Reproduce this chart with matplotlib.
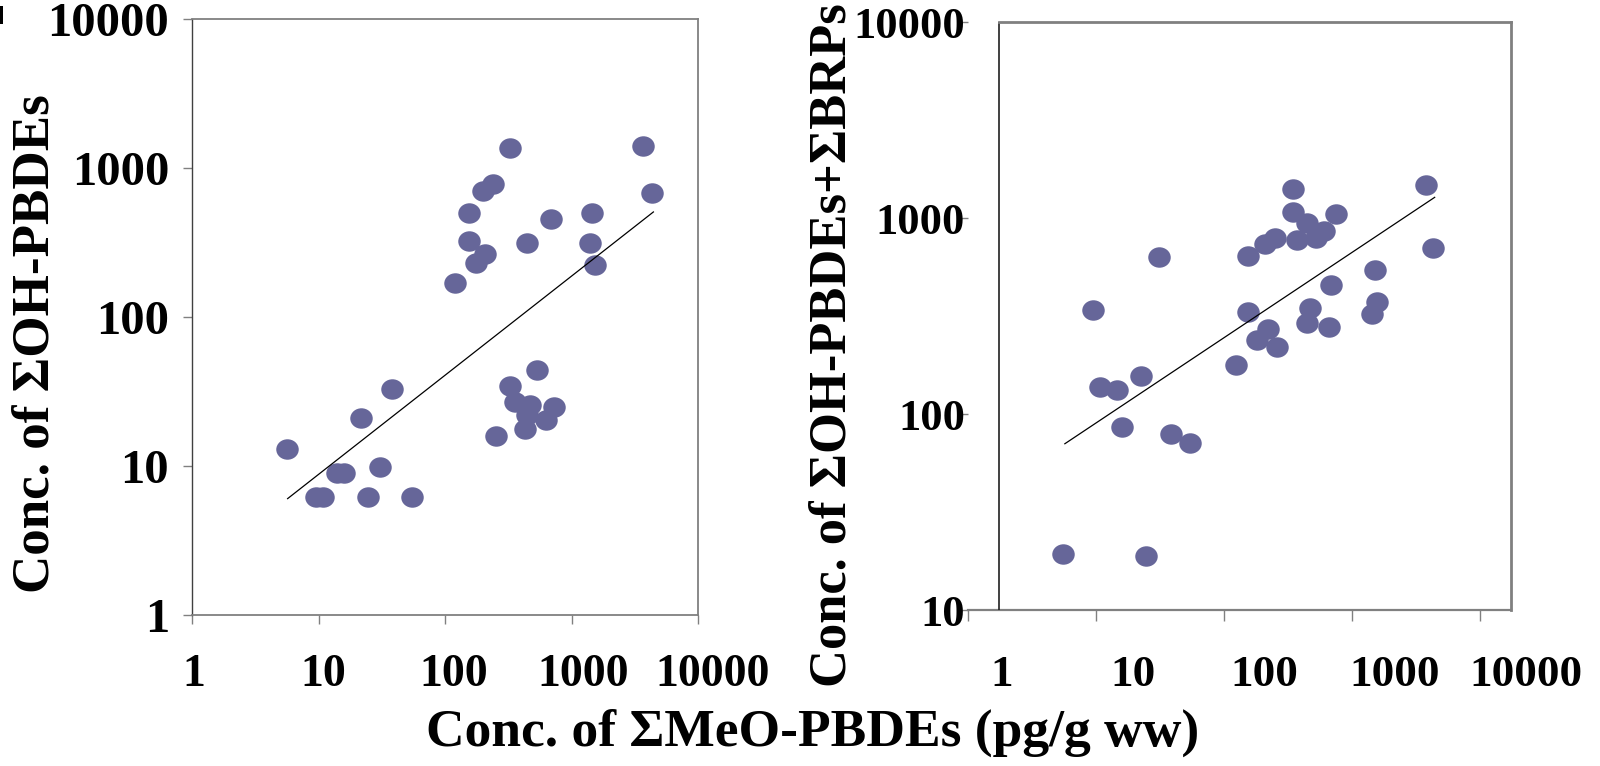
import numpy as np
import matplotlib
matplotlib.use("Agg")
import matplotlib.pyplot as plt
from matplotlib.path import Path
from matplotlib.patches import Rectangle
from matplotlib.transforms import blended_transform_factory

# ---------------- data ----------------
tick_vals = [1, 10, 100, 1000, 10000]
tick_labels = ["1", "10", "100", "1000", "10000"]
left_yticks = [1, 10, 100, 1000, 10000]
right_yticks = [10, 100, 1000, 10000]

# Left panel: sum MeO-PBDEs vs sum OH-PBDEs
meo_left = [5.6, 9.5, 10.8, 14.0, 15.8, 21.7, 24.8, 30.7, 38.4, 54.6,
            120, 155, 155, 177, 209, 201, 241, 328, 447, 691,
            1456, 1396, 1520, 3656, 4357,
            532, 328, 357, 466, 721, 447, 623, 428, 253]
oh_left = [13.0, 6.2, 6.2, 9.0, 9.0, 21.0, 6.2, 9.9, 32.7, 6.2,
           168, 500, 323, 229, 264, 704, 781, 1353, 313, 454,
           500, 313, 222, 1403, 679,
           44.4, 34.2, 26.8, 25.7, 24.9, 22.0, 20.3, 17.7, 16.0]
trend_left_x = [5.7, 4440]
trend_left_y = [6.04, 507]

# Right panel: sum MeO-PBDEs vs sum OH-PBDEs + sum BRPs
meo_right = [5.57, 24.7, 9.4, 10.7, 14.6, 22.5, 15.9, 30.8, 38.3, 54.3,
             125, 155, 155, 182, 219, 261, 210, 249, 343, 343,
             371, 444, 525, 607, 750, 466, 444, 656, 689, 1507,
             1582, 1444, 3802, 4318]
ohbrp_right = [19.3, 18.8, 342, 137, 133, 157, 85.8, 637, 79.3, 71.6,
               179, 639, 334, 238, 272, 220, 736, 793, 1404, 1077,
               771, 946, 793, 861, 1052, 347, 292, 279, 459, 547,
               372, 324, 1477, 709]
trend_right_x = [5.71, 4425]
trend_right_y = [70.6, 1279]

# ---------------- style ----------------
W, H = 1600, 766
fig = plt.figure(figsize=(W / 100, H / 100), dpi=100)
FONT = "Liberation Serif"
DOT = "#666699"
GRAY = "#808080"

circ = Path.unit_circle()
ellipse = Path(circ.vertices * np.array([1.0, 0.91]), circ.codes)
MS = 262


def fx(px):
    return px / W


def fy(py):
    return 1 - py / H


# ---------- left panel ----------
axL = fig.add_axes([fx(192), fy(615), (698 - 192) / W, (615 - 19) / H])
axL.set_xscale("log")
axL.set_yscale("log")
axL.set_xlim(1, 10000)
axL.set_ylim(1, 10000)
axL.scatter(meo_left, oh_left, marker=ellipse, s=MS, c=DOT, linewidths=0, zorder=3)
axL.plot(trend_left_x, trend_left_y, color="black", lw=0.9, zorder=4)
axL.set_xticks(tick_vals)
axL.set_xticklabels([])
axL.set_yticks(left_yticks)
axL.set_yticklabels(tick_labels, fontfamily=FONT, fontweight="bold", fontsize=35)
axL.minorticks_off()
axL.tick_params(axis="both", direction="out", length=6.5, width=1, color=GRAY)
axL.tick_params(axis="y", pad=10)
for s in ["top", "right", "bottom"]:
    axL.spines[s].set_color(GRAY)
    axL.spines[s].set_linewidth(1.3)
axL.spines["left"].set_color("#404040")
axL.spines["left"].set_linewidth(1.0)

# ---------- right panel ----------
x_right_max = 10 ** (543 / 128)
x_box = 10 ** (31 / 128)
axR = fig.add_axes([fx(968), fy(610), (1511 - 968) / W, (610 - 22.4) / H])
axR.set_xscale("log")
axR.set_yscale("log")
axR.set_xlim(1, x_right_max)
axR.set_ylim(10, 10000)
axR.scatter(meo_right, ohbrp_right, marker=ellipse, s=MS, c=DOT, linewidths=0, zorder=3)
axR.plot(trend_right_x, trend_right_y, color="black", lw=0.9, zorder=4)
axR.set_xticks(tick_vals)
axR.set_xticklabels([])
axR.set_yticks(right_yticks)
axR.set_yticklabels(tick_labels[1:], fontfamily=FONT, fontweight="bold", fontsize=32)
axR.minorticks_off()
axR.tick_params(axis="both", direction="out", length=8, width=1, color=GRAY)
axR.tick_params(axis="y", pad=-6)
axR.spines["left"].set_visible(False)
axR.spines["top"].set_visible(False)
axR.spines["right"].set_color(GRAY)
axR.spines["right"].set_linewidth(2)
axR.spines["bottom"].set_color(GRAY)
axR.spines["bottom"].set_linewidth(1.6)
axR.axvline(x_box, color="#202020", lw=1.2, zorder=5)
frac = np.log10(x_box) / np.log10(x_right_max)
axR.axhline(10000, xmin=frac, xmax=1, color=GRAY, lw=2, clip_on=False, zorder=5)


# ---------- x tick labels (slightly offset, as in the source) ----------
def label_axis(left_px, right_px, y_px, size):
    la = fig.add_axes([fx(left_px), fy(y_px), (right_px - left_px) / W, 0.001])
    la.set_xscale("log")
    la.set_xlim(1, 10000)
    la.axis("off")
    tr = blended_transform_factory(la.transData, fig.transFigure)
    for v, t in zip(tick_vals, tick_labels):
        la.text(v, fy(y_px), t, transform=tr, ha="center", va="center",
                fontfamily=FONT, fontweight="bold", fontsize=size, clip_on=False)


label_axis(194, 713, 675, 33)
label_axis(1002, 1526, 675, 32.5)

# ---------- axis titles ----------
fig.text(fx(36), fy(344), "Conc. of \u03a3OH-PBDEs", rotation=90, ha="center", va="center",
         fontfamily=FONT, fontweight="bold", fontsize=38.2)
fig.text(fx(832), fy(345), "Conc. of \u03a3OH-PBDEs+\u03a3BRPs", rotation=90, ha="center",
         va="center", fontfamily=FONT, fontweight="bold", fontsize=37.8)
fig.text(fx(813), fy(733), "Conc. of \u03a3MeO-PBDEs (pg/g ww)", ha="center", va="center",
         fontfamily=FONT, fontweight="bold", fontsize=38.5)

# small cropped glyph fragment at the top-left corner of the source image
fig.add_artist(Rectangle((0, fy(24)), fx(3), 18 / H, transform=fig.transFigure,
                         color="black", lw=0))

fig.savefig("out.png", dpi=100, facecolor="white")
